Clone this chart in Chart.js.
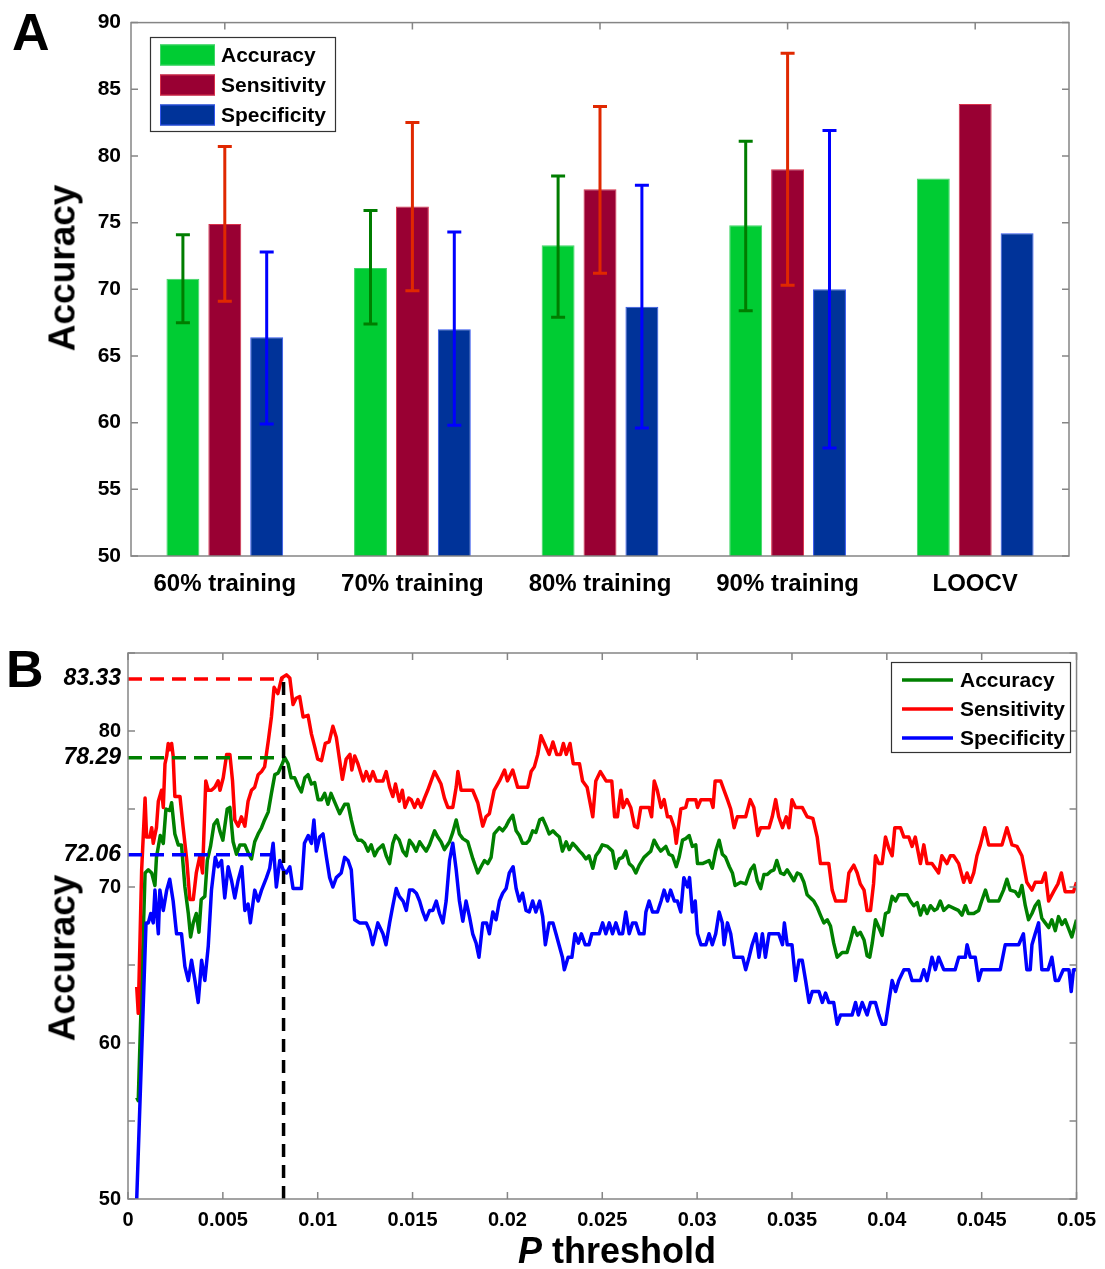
<!DOCTYPE html>
<html>
<head>
<meta charset="utf-8">
<script src="https://cdn.jsdelivr.net/npm/chart.js@4.4.1/dist/chart.umd.min.js"></script>
<style>
  body { margin: 0; background: #fff; }
  #page { position: relative; width: 1105px; height: 1269px; overflow: hidden; background: #fff;
          font-family: 'Liberation Sans', Arial, sans-serif; font-weight: bold; color: #000; }
  #page canvas { position: absolute; left: 0; }
  .txt { position: absolute; line-height: 1; white-space: nowrap; }
  .vert { transform: translate(-50%, -50%) rotate(-90deg); }
</style>
</head>
<body>
<div id="page">
  <canvas id="barChart" width="1105" height="610" style="top:0"></canvas>
  <canvas id="lineChart" width="1105" height="659" style="top:610px"></canvas>
  <div class="txt" style="left:12px;top:6px;font-size:52px">A</div>
  <div class="txt" style="left:6px;top:643px;font-size:52px">B</div>
  <div class="txt vert" style="left:62px;top:268px;font-size:37px">Accuracy</div>
  <div class="txt vert" style="left:62px;top:958px;font-size:37px">Accuracy</div>
  <div class="txt" style="left:617px;top:1233px;font-size:36px;transform:translateX(-50%)"><i>P</i> threshold</div>
</div>
<script>
// ---- panel A: bar chart with error bars ----
const groupLabels = ['60% training', '70% training', '80% training', '90% training', 'LOOCV'];
const accuracyMean = [70.8, 71.6, 73.3, 74.8, 78.3];
const accuracyLow = [67.5, 67.4, 67.9, 68.4, null];
const accuracyHigh = [74.1, 75.9, 78.5, 81.1, null];
const sensitivityMean = [74.9, 76.2, 77.5, 79.0, 83.9];
const sensitivityLow = [69.1, 69.9, 71.2, 70.3, null];
const sensitivityHigh = [80.7, 82.5, 83.7, 87.7, null];
const specificityMean = [66.4, 67.0, 68.7, 70.0, 74.2];
const specificityLow = [59.9, 59.8, 59.6, 58.1, null];
const specificityHigh = [72.8, 74.3, 77.8, 81.9, null];
const barTickMarks = [50, 55, 60, 65, 70, 75, 80, 85, 90];

// ---- panel B: accuracy vs P threshold (P in units of 0.001) ----
const pTickValues = [0, 5, 10, 15, 20, 25, 30, 35, 40, 45, 50];
const pTickLabels = ['0', '0.005', '0.01', '0.015', '0.02', '0.025', '0.03', '0.035', '0.04', '0.045', '0.05'];
const accTickValues = [50, 55, 60, 65, 70, 72.06, 75, 78.29, 80, 83.33, 85];
const accTickLabels = ['50', '', '60', '', '70', '72.06', '', '78.29', '80', '83.33', ''];
const accTickMarks = [50, 55, 60, 65, 70, 75, 80, 85];
const bestP = 8.2;
const bestAccuracy = 78.29;
const bestSensitivity = 83.33;
const bestSpecificity = 72.06;

const sensitivityCurve = [[0.46,63.6],[0.54,61.9],[0.72,71.1],[0.9,75.7],[0.98,73.2],[1.15,73.2],[1.25,73.8],[1.33,72.8],[1.5,73.8],[1.6,75.5],[1.77,76.2],[1.86,75.1],[1.95,77.9],[2.04,78.4],[2.12,79.2],[2.2,78.8],[2.3,79.2],[2.38,78.4],[2.47,75.8],[2.74,75.8],[2.9,73.9],[3.1,71.7],[3.26,69.2],[3.44,69.2],[3.6,70.9],[3.79,72.0],[3.93,70.9],[4.1,76.8],[4.23,76.2],[4.4,76.2],[4.58,76.4],[4.75,76.8],[4.85,76.2],[5.02,77.0],[5.2,78.5],[5.37,78.5],[5.51,76.8],[5.63,74.3],[5.81,73.9],[5.98,74.5],[6.16,73.9],[6.33,75.5],[6.51,76.2],[6.68,76.4],[6.86,77.2],[7.04,77.4],[7.2,77.7],[7.4,79.4],[7.56,80.9],[7.7,82.8],[7.9,82.4],[8.1,83.4],[8.35,83.6],[8.53,83.4],[8.7,81.7],[8.86,82.1],[9.05,82.2],[9.23,80.9],[9.49,81.0],[9.67,79.8],[9.84,79.0],[10.0,78.2],[10.2,78.1],[10.4,79.2],[10.6,79.3],[10.8,80.3],[10.98,79.6],[11.16,78.1],[11.3,76.9],[11.5,78.2],[11.7,78.5],[11.8,77.5],[11.95,78.4],[12.12,77.9],[12.4,76.8],[12.56,77.4],[12.74,76.8],[12.91,77.4],[13.09,76.8],[13.44,76.8],[13.61,77.4],[13.79,76.4],[13.96,75.8],[14.1,76.6],[14.3,75.5],[14.46,76.2],[14.6,75.1],[14.8,75.7],[14.93,75.6],[15.11,75.1],[15.28,75.6],[15.45,75.1],[15.63,75.7],[15.8,76.2],[15.98,76.8],[16.16,77.4],[16.33,77.0],[16.5,76.6],[16.68,75.7],[16.86,75.1],[17.12,75.1],[17.3,76.4],[17.39,77.4],[17.56,76.2],[18.17,76.2],[18.44,75.4],[18.7,73.9],[18.87,74.5],[19.05,74.7],[19.3,76.2],[19.58,76.8],[19.85,77.5],[20.0,76.8],[20.28,77.5],[20.54,76.4],[21.07,76.4],[21.25,77.4],[21.42,77.7],[21.6,78.5],[21.77,79.7],[21.95,79.2],[22.2,78.5],[22.4,79.3],[22.6,78.5],[22.8,78.5],[22.95,79.2],[23.1,78.5],[23.3,79.2],[23.47,77.9],[23.8,77.9],[23.96,76.8],[24.2,76.4],[24.5,74.5],[24.66,76.8],[24.9,77.4],[25.2,76.8],[25.5,76.8],[25.65,74.5],[25.8,74.5],[25.98,76.2],[26.1,75.1],[26.3,75.6],[26.5,75.1],[26.7,73.9],[26.86,73.8],[27.03,75.1],[27.47,75.1],[27.6,74.5],[27.74,76.8],[27.9,76.2],[28.1,75.1],[28.26,75.6],[28.44,74.5],[28.6,74.5],[28.8,73.8],[28.9,72.8],[29.14,75.0],[29.4,75.1],[29.5,75.6],[29.93,75.6],[30.02,75.1],[30.2,75.6],[30.72,75.6],[30.84,75.1],[30.95,76.8],[31.24,76.8],[31.42,76.2],[31.6,75.6],[31.77,75.0],[31.95,73.8],[32.12,74.5],[32.56,74.5],[32.8,75.6],[32.99,75.1],[33.2,73.3],[33.35,73.8],[33.79,73.8],[33.96,74.5],[34.14,75.6],[34.3,74.5],[34.5,73.8],[34.7,74.5],[34.84,73.8],[35.0,75.6],[35.19,75.1],[35.54,75.1],[35.8,74.5],[36.1,74.4],[36.33,73.2],[36.5,71.5],[36.94,71.5],[37.12,69.8],[37.3,69.1],[37.82,69.1],[38.0,70.9],[38.26,71.4],[38.44,70.9],[38.6,70.2],[38.8,69.8],[38.96,68.5],[39.14,68.5],[39.3,70.2],[39.4,72.0],[39.58,71.5],[39.75,71.5],[39.93,73.2],[40.1,72.5],[40.28,72.0],[40.42,73.8],[40.72,73.8],[40.9,73.2],[41.16,73.2],[41.33,72.6],[41.5,73.2],[41.77,71.5],[41.95,72.7],[42.12,71.5],[42.38,71.5],[42.73,70.9],[42.9,72.0],[43.17,71.5],[43.35,72.0],[43.52,72.0],[43.79,71.5],[44.05,70.3],[44.23,70.9],[44.4,70.3],[44.58,70.9],[44.75,72.0],[44.93,72.7],[45.16,73.8],[45.37,72.7],[46.07,72.7],[46.33,73.8],[46.6,72.7],[46.86,72.6],[47.12,72.0],[47.38,70.3],[47.65,69.8],[47.82,70.3],[48.17,70.3],[48.35,70.9],[48.53,69.1],[48.79,69.7],[49.02,70.2],[49.2,70.9],[49.4,69.7],[49.84,69.7],[50.0,70.3]];

const accuracyCurve = [[0.46,56.5],[0.54,56.3],[0.9,70.9],[1.07,71.1],[1.25,70.9],[1.42,70.1],[1.5,71.9],[1.7,73.3],[1.86,72.8],[2.0,75.0],[2.2,74.9],[2.3,75.4],[2.47,73.4],[2.65,72.7],[2.82,72.7],[3.0,70.0],[3.18,68.3],[3.3,66.8],[3.44,67.7],[3.6,68.3],[3.74,67.1],[3.86,69.2],[4.05,69.4],[4.18,71.7],[4.35,72.6],[4.53,74.0],[4.7,74.3],[4.84,73.6],[5.0,73.0],[5.23,75.0],[5.37,75.1],[5.54,72.9],[5.72,72.1],[5.9,72.7],[6.16,72.7],[6.33,72.2],[6.51,71.8],[6.68,72.9],[6.86,73.4],[7.04,73.8],[7.2,74.3],[7.39,74.8],[7.56,76.0],[7.74,77.2],[7.91,77.3],[8.1,77.8],[8.26,78.29],[8.44,77.9],[8.6,77.0],[8.79,77.0],[8.96,76.5],[9.14,76.1],[9.32,77.0],[9.49,77.2],[9.67,76.6],[9.84,76.7],[10.02,75.6],[10.2,75.6],[10.37,76.0],[10.54,75.3],[10.7,76.0],[10.98,75.2],[11.16,74.7],[11.42,75.3],[11.6,75.3],[11.77,74.3],[11.95,73.4],[12.12,73.0],[12.3,73.0],[12.47,72.8],[12.65,72.3],[12.82,72.7],[13.0,72.0],[13.17,72.4],[13.44,72.7],[13.61,72.0],[13.79,71.5],[13.96,72.8],[14.1,73.3],[14.3,73.0],[14.49,72.3],[14.67,72.0],[14.84,73.0],[15.02,72.7],[15.19,72.3],[15.37,72.9],[15.54,72.6],[15.72,72.3],[15.89,72.7],[16.16,73.6],[16.33,73.2],[16.5,72.9],[16.68,72.4],[16.95,72.9],[17.12,73.5],[17.3,74.3],[17.47,73.4],[17.65,73.1],[17.91,72.9],[18.18,71.8],[18.44,70.9],[18.61,71.3],[18.79,71.7],[18.96,71.5],[19.14,71.9],[19.3,73.4],[19.58,73.8],[19.75,73.6],[19.93,73.9],[20.1,74.3],[20.28,74.6],[20.46,73.6],[20.63,73.3],[20.8,72.8],[21.0,72.8],[21.15,73.0],[21.33,73.6],[21.5,73.5],[21.7,74.3],[21.86,74.4],[22.04,73.9],[22.2,73.4],[22.4,73.6],[22.56,73.4],[22.74,73.2],[22.9,72.3],[23.1,72.9],[23.26,72.4],[23.44,72.8],[23.6,72.6],[23.8,72.3],[23.96,72.1],[24.14,71.8],[24.3,72.0],[24.5,71.2],[24.66,72.0],[24.84,72.3],[25.0,72.7],[25.28,72.6],[25.54,72.3],[25.7,71.2],[25.89,71.8],[26.07,71.9],[26.24,72.3],[26.42,71.5],[26.6,71.3],[26.77,70.9],[26.95,71.4],[27.2,71.9],[27.38,72.1],[27.56,72.3],[27.73,73.0],[27.91,72.6],[28.08,72.3],[28.35,72.6],[28.52,72.1],[28.7,72.0],[28.9,71.3],[29.05,71.9],[29.23,73.0],[29.4,73.1],[29.58,73.3],[29.75,72.6],[29.93,72.7],[30.02,71.5],[30.28,71.5],[30.46,71.6],[30.63,71.7],[30.8,71.2],[30.98,72.3],[31.16,73.0],[31.33,72.1],[31.5,71.9],[31.7,71.3],[31.86,70.9],[32.0,70.1],[32.3,70.3],[32.56,70.2],[32.82,71.1],[33.0,71.4],[33.17,70.4],[33.35,69.9],[33.52,70.8],[33.7,70.8],[33.87,71.0],[34.05,71.1],[34.2,71.7],[34.4,70.9],[34.58,70.8],[34.75,71.1],[34.9,70.8],[35.1,70.4],[35.28,70.9],[35.45,70.8],[35.63,70.3],[35.8,69.5],[35.98,69.3],[36.15,69.1],[36.33,68.7],[36.5,68.2],[36.68,67.7],[36.86,67.9],[37.03,67.5],[37.2,66.4],[37.38,65.5],[37.65,65.8],[37.9,65.8],[38.09,66.6],[38.26,67.4],[38.44,66.9],[38.6,67.1],[38.8,66.6],[38.96,65.6],[39.1,65.5],[39.23,66.4],[39.4,67.9],[39.58,67.4],[39.75,66.9],[39.93,68.3],[40.1,68.4],[40.28,69.4],[40.46,69.1],[40.63,69.5],[41.07,69.5],[41.24,69.1],[41.42,68.8],[41.6,69.0],[41.77,68.2],[41.95,68.8],[42.12,68.3],[42.3,68.8],[42.5,68.5],[42.65,68.6],[42.82,69.1],[43.0,68.5],[43.26,68.8],[43.6,68.6],[43.77,68.5],[43.96,68.2],[44.14,68.8],[44.3,68.3],[44.58,68.3],[44.84,68.5],[45.0,69.1],[45.2,69.8],[45.37,69.1],[45.9,69.1],[46.15,69.8],[46.33,70.5],[46.5,69.8],[46.77,69.7],[46.95,69.4],[47.12,70.1],[47.3,68.8],[47.47,67.9],[47.65,68.3],[47.82,68.8],[48.0,69.1],[48.17,68.0],[48.35,67.7],[48.53,67.4],[48.7,67.9],[48.88,67.2],[49.05,68.1],[49.23,67.6],[49.4,67.9],[49.56,67.4],[49.75,66.8],[50.0,67.9]];

const specificityCurve = [[0.46,50.0],[0.95,67.7],[1.07,67.7],[1.2,68.3],[1.33,67.7],[1.42,69.8],[1.6,67.0],[1.68,69.8],[1.86,68.5],[2.04,69.8],[2.2,70.5],[2.38,69.1],[2.56,67.0],[2.82,67.0],[3.0,64.9],[3.18,64.0],[3.35,65.3],[3.53,64.0],[3.7,62.6],[3.88,65.3],[4.05,64.0],[4.23,66.2],[4.4,69.8],[4.6,71.9],[4.75,71.3],[4.93,71.7],[5.1,69.3],[5.28,71.3],[5.46,70.4],[5.63,69.3],[5.8,70.4],[6.0,71.3],[6.16,68.5],[6.33,68.9],[6.45,67.7],[6.68,69.8],[6.86,69.1],[7.04,69.8],[7.3,70.6],[7.47,71.2],[7.65,72.8],[7.82,70.0],[8.0,71.7],[8.18,71.1],[8.35,70.9],[8.53,71.3],[8.7,69.9],[9.14,69.9],[9.3,72.8],[9.5,73.3],[9.67,72.8],[9.8,74.3],[9.93,72.3],[10.1,73.2],[10.28,73.4],[10.46,71.9],[10.63,70.6],[10.8,70.0],[10.98,70.6],[11.24,70.9],[11.42,71.9],[11.6,71.7],[11.77,71.1],[11.95,67.9],[12.2,67.7],[12.56,67.7],[12.74,67.2],[12.9,66.3],[13.17,67.7],[13.44,67.0],[13.6,66.3],[13.79,67.7],[13.96,68.8],[14.14,69.9],[14.3,69.4],[14.5,69.1],[14.67,68.5],[14.84,69.8],[15.02,69.8],[15.2,69.6],[15.37,69.1],[15.54,68.4],[15.7,67.9],[15.9,68.5],[16.07,68.5],[16.25,69.1],[16.42,68.3],[16.6,67.7],[16.77,69.1],[16.95,71.7],[17.12,72.8],[17.3,71.1],[17.47,69.1],[17.65,67.8],[17.82,69.1],[18.0,68.1],[18.17,67.0],[18.35,66.4],[18.5,65.5],[18.7,67.7],[18.9,67.7],[19.05,67.0],[19.23,68.4],[19.4,67.9],[19.58,69.1],[19.75,69.6],[19.93,69.9],[20.1,70.9],[20.3,71.3],[20.46,69.9],[20.63,69.1],[20.8,69.6],[20.98,68.5],[21.15,68.4],[21.33,69.1],[21.5,68.4],[21.7,69.1],[21.86,68.1],[22.0,66.3],[22.2,67.7],[22.4,67.7],[22.56,67.0],[22.74,66.2],[22.9,65.5],[23.0,64.7],[23.2,65.5],[23.4,65.5],[23.56,67.0],[23.74,66.4],[23.9,67.0],[24.1,66.3],[24.3,66.3],[24.45,67.0],[24.84,67.0],[25.02,67.7],[25.19,67.0],[25.37,67.7],[25.54,67.0],[25.72,67.7],[25.9,67.0],[26.07,67.0],[26.24,68.4],[26.42,67.0],[26.6,67.7],[26.77,67.7],[26.95,67.0],[27.2,67.0],[27.3,68.4],[27.47,69.1],[27.65,68.4],[27.91,68.4],[28.1,69.1],[28.26,69.8],[28.44,69.1],[28.6,69.8],[28.8,69.1],[28.96,69.1],[29.14,68.4],[29.3,70.6],[29.5,70.0],[29.6,70.6],[29.75,68.4],[29.9,69.1],[30.02,67.0],[30.2,66.3],[30.46,66.3],[30.63,67.0],[30.8,66.3],[30.98,67.0],[31.16,68.4],[31.33,67.7],[31.42,66.3],[31.6,67.7],[31.77,67.0],[31.95,65.5],[32.4,65.5],[32.56,64.7],[32.74,65.5],[32.9,66.3],[33.1,67.0],[33.26,65.5],[33.44,67.0],[33.6,65.5],[33.79,67.0],[34.3,67.0],[34.5,66.3],[34.6,67.7],[34.75,66.3],[35.0,66.3],[35.19,64.0],[35.37,65.3],[35.54,65.3],[35.72,64.0],[35.9,62.6],[36.07,63.3],[36.42,63.3],[36.6,62.6],[36.77,63.2],[36.94,62.6],[37.2,62.6],[37.38,61.2],[37.56,61.8],[38.17,61.8],[38.35,62.6],[38.5,61.8],[38.7,62.6],[38.96,61.8],[39.14,62.6],[39.4,62.6],[39.58,61.8],[39.75,61.2],[39.93,61.2],[40.1,62.6],[40.28,64.0],[40.46,63.3],[40.63,64.0],[40.9,64.7],[41.16,64.7],[41.33,64.0],[41.77,64.0],[41.95,64.7],[42.12,64.0],[42.38,65.5],[42.56,64.7],[42.73,65.5],[43.0,64.7],[43.6,64.7],[43.79,65.5],[44.14,65.5],[44.23,66.3],[44.4,65.5],[44.66,65.5],[44.84,64.0],[45.0,64.7],[45.98,64.7],[46.24,66.3],[46.95,66.3],[47.2,67.0],[47.38,64.7],[47.56,64.7],[47.65,66.3],[47.82,67.0],[48.0,67.7],[48.17,64.7],[48.5,64.7],[48.7,65.5],[48.88,64.0],[49.05,64.0],[49.3,64.7],[49.6,64.7],[49.72,63.3],[49.84,64.7],[50.0,64.7]];

const FONT = "'Liberation Sans', Arial, sans-serif";
Chart.defaults.font.family = FONT;
Chart.defaults.font.weight = 'bold';
Chart.defaults.color = '#000';

// box round the plot area, with short ticks pointing inwards
const frameTicks = {
  id: 'frameTicks',
  afterDraw(chart, args, opts) {
    const { ctx, chartArea: a, scales } = chart;
    ctx.save();
    ctx.strokeStyle = opts.color;
    ctx.lineWidth = 1.5;
    ctx.strokeRect(a.left, a.top, a.right - a.left, a.bottom - a.top);
    ctx.beginPath();
    opts.xMarks.forEach((v) => {
      const px = scales.x.getPixelForValue(v);
      ctx.moveTo(px, a.top);
      ctx.lineTo(px, a.top + opts.len);
      if (opts.bottomMarks) {
        ctx.moveTo(px, a.bottom);
        ctx.lineTo(px, a.bottom - opts.len);
      }
    });
    opts.yMarks.forEach((v) => {
      const py = scales.y.getPixelForValue(v);
      ctx.moveTo(a.left, py);
      ctx.lineTo(a.left + opts.len, py);
      ctx.moveTo(a.right, py);
      ctx.lineTo(a.right - opts.len, py);
    });
    ctx.stroke();
    ctx.restore();
  },
};

// vertical error bars on top of each bar
const errorBars = {
  id: 'errorBars',
  afterDatasetsDraw(chart) {
    const ctx = chart.ctx;
    const y = chart.scales.y;
    chart.data.datasets.forEach((ds, i) => {
      const meta = chart.getDatasetMeta(i);
      meta.data.forEach((bar, j) => {
        const lo = ds.errLow[j];
        const hi = ds.errHigh[j];
        if (lo == null || hi == null) return;
        const yl = y.getPixelForValue(lo);
        const yh = y.getPixelForValue(hi);
        ctx.save();
        ctx.strokeStyle = ds.errColor;
        ctx.lineWidth = 3;
        ctx.beginPath();
        ctx.moveTo(bar.x, yl);
        ctx.lineTo(bar.x, yh);
        ctx.moveTo(bar.x - 7, yl);
        ctx.lineTo(bar.x + 7, yl);
        ctx.moveTo(bar.x - 7, yh);
        ctx.lineTo(bar.x + 7, yh);
        ctx.stroke();
        ctx.restore();
      });
    });
  },
};

// legend box inside the plot
const boxLegend = {
  id: 'boxLegend',
  afterDraw(chart, args, o) {
    const ctx = chart.ctx;
    ctx.save();
    ctx.fillStyle = '#fff';
    ctx.fillRect(o.x, o.y, o.w, o.h);
    ctx.strokeStyle = '#333';
    ctx.lineWidth = 1.2;
    ctx.strokeRect(o.x + 0.5, o.y + 0.5, o.w, o.h);
    ctx.font = 'bold 21px ' + FONT;
    ctx.textBaseline = 'middle';
    o.labels.forEach((label, k) => {
      const ds = chart.data.datasets.find((d) => d.label === label);
      const cy = o.firstRow + k * o.rowH;
      if (o.kind === 'patch') {
        ctx.fillStyle = ds.backgroundColor;
        ctx.fillRect(o.sx0, cy - 10.5, o.sx1 - o.sx0, 21);
        ctx.strokeStyle = ds.borderColor;
        ctx.lineWidth = 1;
        ctx.strokeRect(o.sx0 + 0.5, cy - 10, o.sx1 - o.sx0 - 1, 20);
      } else {
        ctx.strokeStyle = ds.borderColor;
        ctx.lineWidth = 3.5;
        ctx.beginPath();
        ctx.moveTo(o.sx0, cy);
        ctx.lineTo(o.sx1, cy);
        ctx.stroke();
      }
      ctx.fillStyle = '#000';
      ctx.fillText(label, o.textX, cy + 1);
    });
    ctx.restore();
  },
};

new Chart(document.getElementById('barChart'), {
  type: 'bar',
  data: {
    labels: groupLabels,
    datasets: [
      { label: 'Accuracy', data: accuracyMean, errLow: accuracyLow, errHigh: accuracyHigh, errColor: '#007d00',
        backgroundColor: '#00cc33', borderColor: '#3fd466', borderWidth: 1 },
      { label: 'Sensitivity', data: sensitivityMean, errLow: sensitivityLow, errHigh: sensitivityHigh, errColor: '#e02800',
        backgroundColor: '#990033', borderColor: '#d9304a', borderWidth: 1 },
      { label: 'Specificity', data: specificityMean, errLow: specificityLow, errHigh: specificityHigh, errColor: '#0000ff',
        backgroundColor: '#003399', borderColor: '#3355ee', borderWidth: 1 },
    ],
  },
  options: {
    responsive: false,
    animation: false,
    layout: { padding: { top: 20, right: 36, left: 0, bottom: 0 } },
    datasets: { bar: { categoryPercentage: 0.67, barPercentage: 0.786, borderSkipped: 'start' } },
    scales: {
      x: {
        grid: { display: false, drawTicks: false },
        border: { display: false },
        ticks: { font: { size: 24, weight: 'bold' }, padding: 14, maxRotation: 0, autoSkip: false },
        afterFit: (s) => { s.height = 54; },
      },
      y: {
        min: 50,
        max: 90,
        grid: { display: false, drawTicks: false },
        border: { display: false },
        ticks: { stepSize: 5, font: { size: 21, weight: 'bold' }, padding: 10 },
        afterFit: (s) => { s.width = 131; },
      },
    },
    plugins: {
      legend: { display: false },
      tooltip: { enabled: false },
      frameTicks: { color: '#858585', len: 7, xMarks: [0, 1, 2, 3, 4], bottomMarks: false, yMarks: barTickMarks },
      boxLegend: { kind: 'patch', x: 150, y: 37, w: 185, h: 94, firstRow: 55, rowH: 30, sx0: 160, sx1: 215, textX: 221,
                   labels: ['Accuracy', 'Sensitivity', 'Specificity'] },
    },
  },
  plugins: [errorBars, frameTicks, boxLegend],
});

const toPoints = (curve) => curve.map(([p, v]) => ({ x: p, y: v }));
const highlightValues = [bestSpecificity, bestAccuracy, bestSensitivity];

new Chart(document.getElementById('lineChart'), {
  type: 'line',
  data: {
    datasets: [
      { label: 'best P', data: [{ x: bestP, y: 50 }, { x: bestP, y: bestSensitivity }],
        borderColor: '#000', borderDash: [13, 8], borderWidth: 3.5, order: 0 },
      { label: 'best sensitivity', data: [{ x: 0, y: bestSensitivity }, { x: bestP, y: bestSensitivity }],
        borderColor: '#ff0000', borderDash: [14, 8], borderWidth: 3.5, order: 1 },
      { label: 'best accuracy', data: [{ x: 0, y: bestAccuracy }, { x: bestP, y: bestAccuracy }],
        borderColor: '#008000', borderDash: [14, 8], borderWidth: 3.5, order: 1 },
      { label: 'best specificity', data: [{ x: 0, y: bestSpecificity }, { x: bestP, y: bestSpecificity }],
        borderColor: '#0000ff', borderDash: [14, 8], borderWidth: 3.5, order: 1 },
      { label: 'Specificity', data: toPoints(specificityCurve), borderColor: '#0000ff', borderWidth: 3.5, order: 2 },
      { label: 'Sensitivity', data: toPoints(sensitivityCurve), borderColor: '#ff0000', borderWidth: 3.5, order: 3 },
      { label: 'Accuracy', data: toPoints(accuracyCurve), borderColor: '#008000', borderWidth: 3.5, order: 4 },
    ],
  },
  options: {
    responsive: false,
    animation: false,
    layout: { padding: { top: 43, right: 27, left: 0, bottom: 0 } },
    elements: {
      point: { radius: 0 },
      line: { tension: 0, borderJoinStyle: 'round', borderCapStyle: 'butt', fill: false },
    },
    scales: {
      x: {
        type: 'linear',
        min: 0,
        max: 50,
        afterBuildTicks: (s) => { s.ticks = pTickValues.map((v) => ({ value: v })); },
        grid: { display: false, drawTicks: false },
        border: { display: false },
        ticks: { callback: (v, i) => pTickLabels[i], autoSkip: false, maxRotation: 0, padding: 9,
                 font: { size: 20, weight: 'bold' } },
        afterFit: (s) => { s.height = 70; },
      },
      y: {
        type: 'linear',
        min: 50,
        max: 85,
        afterBuildTicks: (s) => { s.ticks = accTickValues.map((v) => ({ value: v })); },
        grid: { display: false, drawTicks: false },
        border: { display: false },
        ticks: {
          callback: (v, i) => accTickLabels[i],
          autoSkip: false,
          padding: 7,
          font: (c) => (c.tick && highlightValues.includes(c.tick.value))
            ? { family: FONT, size: 23, style: 'italic', weight: 'bold' }
            : { family: FONT, size: 20, weight: 'bold' },
        },
        afterFit: (s) => { s.width = 128; },
      },
    },
    plugins: {
      legend: { display: false },
      tooltip: { enabled: false },
      frameTicks: { color: '#858585', len: 7, xMarks: pTickValues, bottomMarks: true, yMarks: accTickMarks },
      boxLegend: { kind: 'line', x: 891, y: 52, w: 179, h: 90, firstRow: 70, rowH: 29, sx0: 902, sx1: 953, textX: 960,
                   labels: ['Accuracy', 'Sensitivity', 'Specificity'] },
    },
  },
  plugins: [frameTicks, boxLegend],
});
</script>
</body>
</html>
